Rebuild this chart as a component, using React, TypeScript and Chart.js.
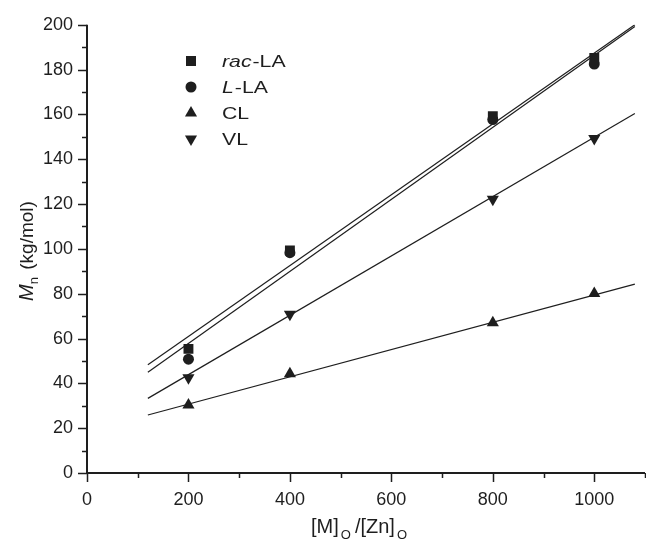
import React, { useEffect, useRef } from 'react';
import { Chart, registerables } from 'chart.js';
Chart.register(...registerables);

// ---- data ----
const xValues = [200, 400, 800, 1000];
const racLA = [55.4, 99.3, 159.2, 185.2];
const lLA = [50.8, 98.3, 157.7, 182.5];
const CL = [30.3, 44.3, 67.1, 80.1];
const VL = [42.5, 70.8, 122.2, 149.3];

const fitX = [120, 1080];
const fitRacLA = [48.3, 200];
const fitLLA = [45, 199.2];
const fitCL = [25.9, 84.3];
const fitVL = [33.3, 160.4];

const legendLabels = ['rac-LA', 'L-LA', 'CL', 'VL'];
const xTickStep = 100;
const yTickStep = 10;

const INK = '#1e1e1e';
const FONT = '"Liberation Sans", Arial, sans-serif';
const PLOT_RIGHT = 645;

const pts = (xs: number[], ys: number[]) => xs.map((x, i) => ({ x, y: ys[i] }));

function drawMarker(ctx: CanvasRenderingContext2D, kind: string, x: number, y: number) {
  ctx.save();
  ctx.fillStyle = INK;
  ctx.beginPath();
  if (kind === 'rect') {
    ctx.rect(x - 5, y - 5, 10, 10);
  } else if (kind === 'circle') {
    ctx.arc(x, y, 5.5, 0, Math.PI * 2);
  } else {
    const r = 7;
    const flip = kind === 'down' ? Math.PI : 0;
    for (let i = 0; i < 3; i++) {
      const a = flip + (i * 2 * Math.PI) / 3;
      const px = x + Math.sin(a) * r;
      const py = y - Math.cos(a) * r;
      if (i === 0) ctx.moveTo(px, py);
      else ctx.lineTo(px, py);
    }
    ctx.closePath();
  }
  ctx.fill();
  ctx.restore();
}

function stretchedText(ctx: CanvasRenderingContext2D, t: string, x: number, y: number, sx: number) {
  ctx.save();
  ctx.translate(x, y);
  ctx.scale(sx, 1);
  ctx.fillText(t, 0, 0);
  const w = ctx.measureText(t).width * sx;
  ctx.restore();
  return w;
}

const layoutFixPlugin = {
  id: 'layoutFix',
  afterLayout(chart: any) {
    const xs = chart.scales.x;
    xs.right = PLOT_RIGHT;
    xs.width = xs.right - xs.left;
    xs.configure();
    chart.chartArea.right = PLOT_RIGHT;
    chart.chartArea.width = PLOT_RIGHT - chart.chartArea.left;
  },
};

const decorPlugin = {
  id: 'decor',
  afterDraw(chart: any) {
    const { ctx, chartArea, scales } = chart;
    const xs = scales.x;
    const ys = scales.y;
    ctx.save();
    ctx.strokeStyle = INK;
    ctx.lineWidth = 2;
    ctx.beginPath();
    ctx.moveTo(chartArea.left, chartArea.top);
    ctx.lineTo(chartArea.left, chartArea.bottom);
    ctx.lineTo(chartArea.right, chartArea.bottom);
    ctx.stroke();
    ctx.lineWidth = 1.5;
    ctx.beginPath();
    xs.ticks.forEach((t: any) => {
      const px = Math.round(xs.getPixelForValue(t.value)) + 0.5;
      const major = t.value % 200 === 0;
      ctx.moveTo(px, chartArea.bottom);
      ctx.lineTo(px, chartArea.bottom + (major ? 9 : 5));
    });
    ys.ticks.forEach((t: any) => {
      const py = Math.round(ys.getPixelForValue(t.value)) + 0.5;
      const major = t.value % 20 === 0;
      ctx.moveTo(chartArea.left, py);
      ctx.lineTo(chartArea.left - (major ? 9 : 5), py);
    });
    ctx.stroke();

    // legend
    const kinds = ['rect', 'circle', 'up', 'down'];
    const rowsY = [61, 87, 113, 139];
    const mx = chartArea.left + 104;
    const tx = chartArea.left + 135;
    const sx = 1.25;
    ctx.fillStyle = INK;
    ctx.textBaseline = 'alphabetic';
    ctx.textAlign = 'left';
    legendLabels.forEach((lab, i) => {
      const y = rowsY[i];
      drawMarker(ctx, kinds[i], mx, y);
      const by = y + 6;
      let x = tx;
      if (lab.includes('-')) {
        const idx = lab.indexOf('-');
        const it = lab.slice(0, idx);
        const rest = lab.slice(idx);
        ctx.font = `italic 17px ${FONT}`;
        x += stretchedText(ctx, it, x, by, sx) + 1;
        ctx.font = `17px ${FONT}`;
        stretchedText(ctx, rest, x, by, sx);
      } else {
        ctx.font = `17px ${FONT}`;
        stretchedText(ctx, lab, x, by, sx);
      }
    });

    // x title
    const partsX = [
      { t: '[M]', f: `20px ${FONT}`, dy: 0, gap: 2 },
      { t: 'O', f: `13px ${FONT}`, dy: 6, gap: 4 },
      { t: '/[Zn]', f: `20px ${FONT}`, dy: 0, gap: 2 },
      { t: 'O', f: `13px ${FONT}`, dy: 6, gap: 0 },
    ];
    let cx = 311;
    const by = 533;
    partsX.forEach((p) => {
      ctx.font = p.f;
      ctx.fillText(p.t, cx, by + p.dy);
      cx += ctx.measureText(p.t).width + p.gap;
    });

    // y title
    const partsY = [
      { t: 'M', f: `italic 20px ${FONT}`, dy: 0, gap: 0 },
      { t: 'n', f: `13px ${FONT}`, dy: 5, gap: 2 },
      { t: ' (kg/mol)', f: `19px ${FONT}`, dy: 0, gap: 0 },
    ];
    let total = 0;
    partsY.forEach((p) => {
      ctx.font = p.f;
      total += ctx.measureText(p.t).width + p.gap;
    });
    ctx.translate(33, 251);
    ctx.rotate(-Math.PI / 2);
    let lx = -total / 2;
    partsY.forEach((p) => {
      ctx.font = p.f;
      ctx.fillText(p.t, lx, p.dy);
      lx += ctx.measureText(p.t).width + p.gap;
    });
    ctx.restore();
  },
};

export default function App() {
  const ref = useRef<HTMLCanvasElement | null>(null);
  useEffect(() => {
    document.body.style.margin = '0';
    const canvas = ref.current!;
    const markerDs = (label: string, ys: number[], style: string, rot = 0) => ({
      label,
      data: pts(xValues, ys),
      showLine: false,
      pointStyle: style,
      rotation: rot,
      pointRadius: style === 'rect' ? 7 : style === 'circle' ? 5.5 : 7,
      pointBackgroundColor: INK,
      pointBorderColor: INK,
      pointBorderWidth: 0,
    });
    const lineDs = (label: string, ys: number[]) => ({
      label,
      data: pts(fitX, ys),
      showLine: true,
      borderColor: INK,
      borderWidth: 1.2,
      pointRadius: 0,
      fill: false,
    });
    const chart = new Chart(canvas, {
      type: 'scatter',
      data: {
        datasets: [
          lineDs('fit rac-LA', fitRacLA),
          lineDs('fit L-LA', fitLLA),
          lineDs('fit CL', fitCL),
          lineDs('fit VL', fitVL),
          markerDs('rac-LA', racLA, 'rect'),
          markerDs('L-LA', lLA, 'circle'),
          markerDs('CL', CL, 'triangle'),
          markerDs('VL', VL, 'triangle', 180),
        ],
      } as any,
      options: {
        animation: false,
        responsive: false,
        devicePixelRatio: 1,
        layout: { padding: { left: 0, top: 22, right: 1, bottom: 0 } },
        plugins: { legend: { display: false }, tooltip: { enabled: false } },
        scales: {
          x: {
            type: 'linear',
            min: 0,
            max: 1100,
            afterFit: (s: any) => {
              s.height = 70;
              s.paddingLeft = 0;
              s.paddingRight = 0;
            },
            grid: { display: false, drawTicks: false },
            border: { display: false },
            ticks: {
              stepSize: xTickStep,
              padding: 16,
              color: INK,
              font: { family: FONT, size: 18 },
              maxRotation: 0,
              autoSkip: false,
              callback: (v: any) => (v % 200 === 0 && v <= 1000 ? String(v) : ''),
            },
          },
          y: {
            type: 'linear',
            min: 0,
            max: 200,
            afterFit: (s: any) => {
              s.width = 87;
            },
            grid: { display: false, drawTicks: false },
            border: { display: false },
            ticks: {
              stepSize: yTickStep,
              padding: 14,
              color: INK,
              font: { family: FONT, size: 18 },
              autoSkip: false,
              callback: (v: any) => (v % 20 === 0 ? String(v) : ''),
            },
          },
        },
      },
      plugins: [layoutFixPlugin, decorPlugin],
    } as any);
    return () => chart.destroy();
  }, []);
  return <canvas ref={ref} width={646} height={543} style={{ display: 'block' }} />;
}
